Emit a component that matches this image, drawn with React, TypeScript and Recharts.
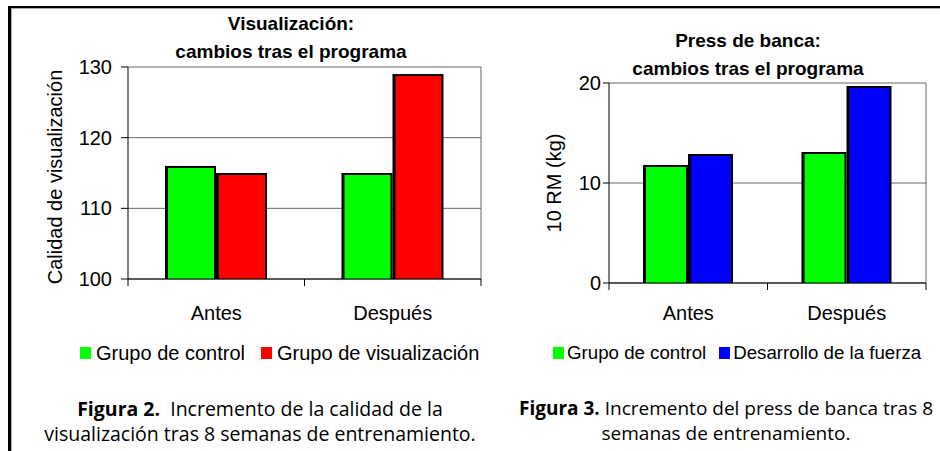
import React from "react";
import {
  BarChart,
  Bar,
  XAxis,
  YAxis,
  CartesianGrid,
  Legend,
} from "recharts";

// ─── Data ─────────────────────────────────────────────────────────────────────
const categories = ["Antes", "Después"];

const visControl = [116, 115];
const visVisualizacion = [115, 129];
const visTicks = [100, 110, 120, 130];
const visSeries = ["Grupo de control", "Grupo de visualización"];

const pressControl = [11.8, 13.1];
const pressFuerza = [12.9, 19.7];
const pressTicks = [0, 10, 20];
const pressSeries = ["Grupo de control", "Desarrollo de la fuerza"];

const visData = categories.map((c, i) => ({
  name: c,
  control: visControl[i],
  visual: visVisualizacion[i],
}));

const pressData = categories.map((c, i) => ({
  name: c,
  control: pressControl[i],
  fuerza: pressFuerza[i],
}));

const ARIAL = '"Liberation Sans", Arial, sans-serif';
const CAPTION = '"Open Sans", "Noto Sans", sans-serif';
const GRID = "#666";

// ─── Pieces ───────────────────────────────────────────────────────────────────
function BarShape(props: any) {
  const { x, y, width, height, fill } = props;
  if (!height || height <= 0) return null;
  return (
    <g>
      <rect x={x} y={y} width={width} height={height} fill="#000" />
      <rect x={x + 3} y={y + 2} width={Math.max(0, width - 5)} height={height - 2} fill={fill} />
    </g>
  );
}

function makeXTick(labelDy: number) {
  return function XTick(props: any) {
    const { x, y, payload, width, visibleTicksCount, index } = props;
    const half = width && visibleTicksCount ? width / visibleTicksCount / 2 : 0;
    return (
      <g>
        <line x1={x - half} x2={x - half} y1={y} y2={y + 7} stroke="#000" />
        {index === visibleTicksCount - 1 && (
          <line x1={x + half} x2={x + half} y1={y} y2={y + 7} stroke="#000" />
        )}
        <text x={x} y={y + labelDy} textAnchor="middle" fill="#000" fontSize={20} fontFamily={ARIAL}>
          {payload.value}
        </text>
      </g>
    );
  };
}

function YLabel(props: any) {
  const { viewBox, text, shiftX = 0, shiftY = 0 } = props;
  if (!viewBox) return null;
  const cx = viewBox.x + viewBox.width / 2 + shiftX;
  const cy = viewBox.y + viewBox.height / 2 + shiftY;
  return (
    <text
      x={cx}
      y={cy}
      transform={`rotate(-90, ${cx}, ${cy})`}
      textAnchor="middle"
      dominantBaseline="central"
      fontSize={20}
      fontFamily={ARIAL}
      fill="#000"
    >
      {text}
    </text>
  );
}

function LegendContent({ payload, order, squareGap, itemGap, fontSize = 20 }: any) {
  // keep the series order of the original, not the alphabetical one
  const items = [...(payload || [])].sort(
    (a: any, b: any) => order.indexOf(a.value) - order.indexOf(b.value)
  );
  return (
    <div style={{ display: "flex", alignItems: "center", fontFamily: ARIAL, fontSize, lineHeight: "24px", whiteSpace: "nowrap" }}>
      {items.map((p: any, i: number) => (
        <span key={p.value} style={{ display: "inline-flex", alignItems: "center", marginLeft: i ? itemGap : 0 }}>
          <span style={{ display: "inline-block", width: 11, height: 12, background: p.color, marginRight: squareGap }} />
          {p.value}
        </span>
      ))}
    </div>
  );
}

// right edge of the plot frame
const rightEdge = ({ offset }: any) => [offset.left + offset.width];

const tickStyle = { fill: "#000", fontSize: 20, fontFamily: ARIAL };

const titleStyle: React.CSSProperties = {
  position: "absolute",
  textAlign: "center",
  fontWeight: "bold",
  fontSize: 19,
  lineHeight: "28px",
  whiteSpace: "nowrap",
};

const captionStyle: React.CSSProperties = {
  position: "absolute",
  top: 396,
  textAlign: "center",
  fontFamily: CAPTION,
  fontSize: 19.5,
  lineHeight: "25px",
  whiteSpace: "nowrap",
};

// ─── App ──────────────────────────────────────────────────────────────────────
export default function App() {
  return (
    <div
      style={{
        position: "absolute",
        left: 0,
        top: 0,
        width: 940,
        height: 451,
        background: "#fff",
        overflow: "hidden",
        fontFamily: ARIAL,
      }}
    >
      {/* page frame */}
      <div
        style={{
          position: "absolute",
          left: 8,
          top: 6,
          width: 960,
          height: 480,
          borderTop: "2px solid #000",
          borderLeft: "3px solid #000",
          boxShadow: "inset 1px 1px 0 #aaa",
        }}
      />

      {/* left chart */}
      <div style={{ ...titleStyle, left: 0, top: 10, width: 582 }}>
        Visualización:
        <br />
        cambios tras el programa
      </div>
      <div style={{ position: "absolute", left: 0, top: 0 }}>
        <BarChart
          width={490}
          height={380}
          data={visData}
          margin={{ top: 67, right: 9, bottom: 50, left: 0 }}
          barCategoryGap={37}
          barGap={0}
        >
          <CartesianGrid horizontal vertical={false} stroke={GRID} />
          <CartesianGrid horizontal={false} vertical verticalCoordinatesGenerator={rightEdge} stroke={GRID} />
          <XAxis
            dataKey="name"
            height={51}
            tickSize={0}
            tickMargin={0}
            tickLine={false}
            axisLine={{ stroke: "#000" }}
            tick={makeXTick(41)}
            interval={0}
          />
          <YAxis
            width={128}
            domain={[100, 130]}
            ticks={visTicks}
            tickSize={7}
            tickMargin={9}
            tickLine={{ stroke: "#000" }}
            axisLine={{ stroke: "#000" }}
            tick={tickStyle}
            label={<YLabel text="Calidad de visualización" shiftX={-9} shiftY={4} />}
          />
          <Legend
            verticalAlign="middle"
            align="center"
            layout="horizontal"
            wrapperStyle={{ top: 341, left: 80, width: "auto" }}
            content={<LegendContent order={visSeries} squareGap={5} itemGap={16} />}
          />
          <Bar dataKey="control" name={visSeries[0]} fill="#00ff00" shape={<BarShape />} isAnimationActive={false} />
          <Bar dataKey="visual" name={visSeries[1]} fill="#ff0000" shape={<BarShape />} isAnimationActive={false} />
        </BarChart>
      </div>

      {/* right chart */}
      <div style={{ ...titleStyle, left: 548, top: 27, width: 400 }}>
        Press de banca:
        <br />
        cambios tras el programa
      </div>
      <div style={{ position: "absolute", left: 520, top: 0 }}>
        <BarChart
          width={420}
          height={380}
          data={pressData}
          margin={{ top: 83, right: 14, bottom: 46, left: 0 }}
          barCategoryGap={34}
          barGap={0}
        >
          <CartesianGrid horizontal vertical={false} stroke={GRID} />
          <CartesianGrid horizontal={false} vertical verticalCoordinatesGenerator={rightEdge} stroke={GRID} />
          <XAxis
            dataKey="name"
            height={51}
            tickSize={0}
            tickMargin={0}
            tickLine={false}
            axisLine={{ stroke: "#000" }}
            tick={makeXTick(37)}
            interval={0}
          />
          <YAxis
            width={89}
            domain={[0, 20]}
            ticks={pressTicks}
            tickSize={6}
            tickMargin={2}
            tickLine={{ stroke: "#000" }}
            axisLine={{ stroke: "#000" }}
            tick={tickStyle}
            label={<YLabel text="10 RM (kg)" shiftX={-11} />}
          />
          <Legend
            verticalAlign="middle"
            align="center"
            layout="horizontal"
            wrapperStyle={{ top: 341, left: 33, width: "auto" }}
            content={<LegendContent order={pressSeries} squareGap={3} itemGap={13} fontSize={18.7} />}
          />
          <Bar dataKey="control" name={pressSeries[0]} fill="#00ff00" shape={<BarShape />} isAnimationActive={false} />
          <Bar dataKey="fuerza" name={pressSeries[1]} fill="#0000ff" shape={<BarShape />} isAnimationActive={false} />
        </BarChart>
      </div>

      {/* captions */}
      <div style={{ ...captionStyle, left: 0, width: 520 }}>
        <b>Figura 2.</b>&nbsp; Incremento de la calidad de la
        <br />
        visualización tras 8 semanas de entrenamiento.
      </div>
      <div style={{ ...captionStyle, left: 512, width: 428, fontSize: 19 }}>
        <b>Figura 3.</b> Incremento del press de banca tras 8
        <br />
        semanas de entrenamiento.
      </div>
    </div>
  );
}
